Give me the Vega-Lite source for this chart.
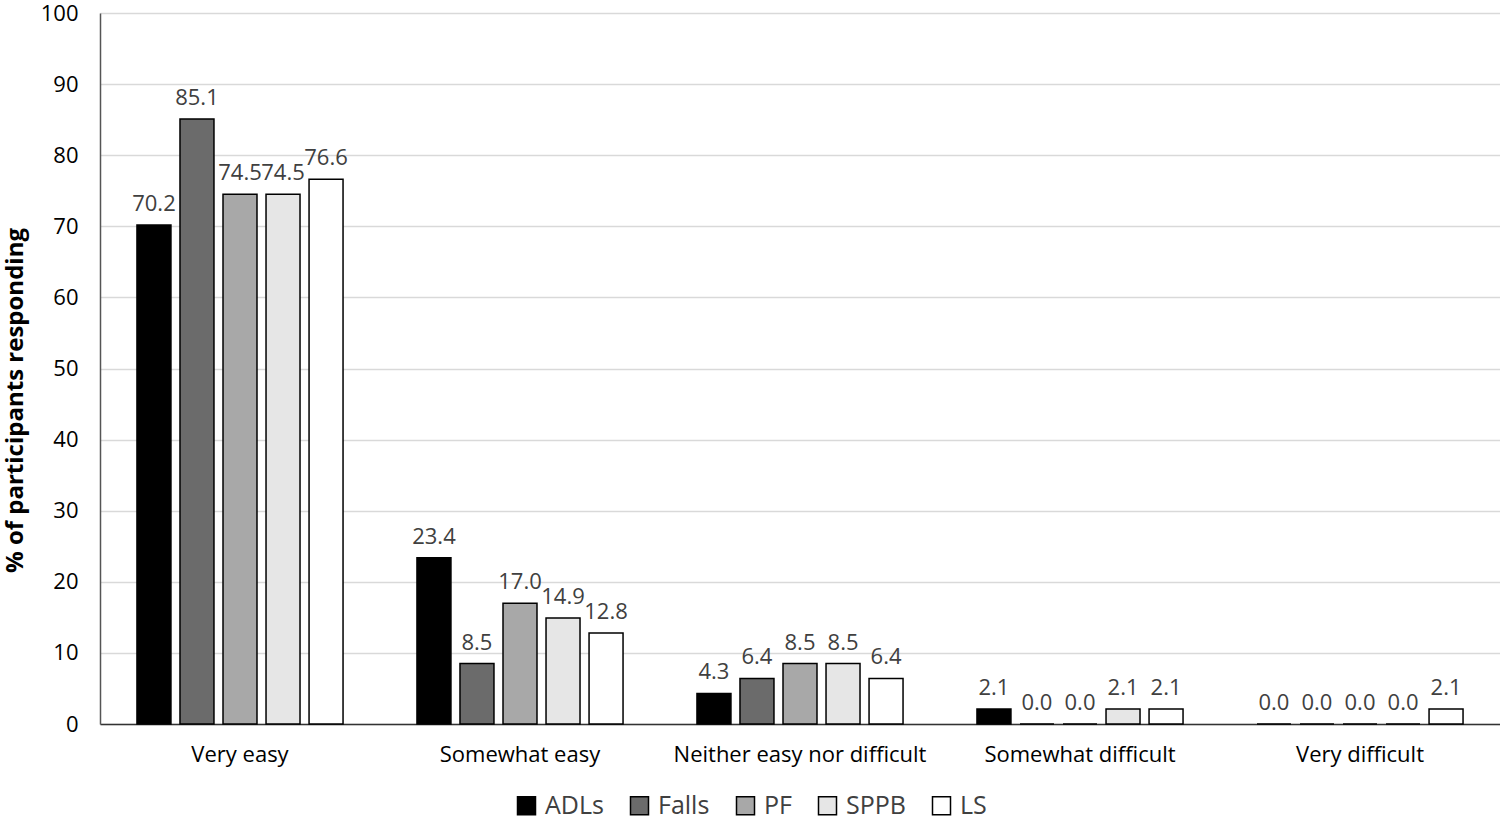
{
  "$schema": "https://vega.github.io/schema/vega-lite/v6.json",
  "width": 1400,
  "height": 711,
  "autosize": {"type": "none"},
  "padding": {"left": 100, "top": 13, "right": 0, "bottom": 94},
  "background": "white",
  "config": {
    "font": "Open Sans",
    "view": {"stroke": null}
  },
  "data": {
    "values": [
      {"cat": "Very easy", "series": "ADLs", "value": 70.2},
      {"cat": "Very easy", "series": "Falls", "value": 85.1},
      {"cat": "Very easy", "series": "PF", "value": 74.5},
      {"cat": "Very easy", "series": "SPPB", "value": 74.5},
      {"cat": "Very easy", "series": "LS", "value": 76.6},
      {"cat": "Somewhat easy", "series": "ADLs", "value": 23.4},
      {"cat": "Somewhat easy", "series": "Falls", "value": 8.5},
      {"cat": "Somewhat easy", "series": "PF", "value": 17.0},
      {"cat": "Somewhat easy", "series": "SPPB", "value": 14.9},
      {"cat": "Somewhat easy", "series": "LS", "value": 12.8},
      {"cat": "Neither easy nor difficult", "series": "ADLs", "value": 4.3},
      {"cat": "Neither easy nor difficult", "series": "Falls", "value": 6.4},
      {"cat": "Neither easy nor difficult", "series": "PF", "value": 8.5},
      {"cat": "Neither easy nor difficult", "series": "SPPB", "value": 8.5},
      {"cat": "Neither easy nor difficult", "series": "LS", "value": 6.4},
      {"cat": "Somewhat difficult", "series": "ADLs", "value": 2.1},
      {"cat": "Somewhat difficult", "series": "Falls", "value": 0.0},
      {"cat": "Somewhat difficult", "series": "PF", "value": 0.0},
      {"cat": "Somewhat difficult", "series": "SPPB", "value": 2.1},
      {"cat": "Somewhat difficult", "series": "LS", "value": 2.1},
      {"cat": "Very difficult", "series": "ADLs", "value": 0.0},
      {"cat": "Very difficult", "series": "Falls", "value": 0.0},
      {"cat": "Very difficult", "series": "PF", "value": 0.0},
      {"cat": "Very difficult", "series": "SPPB", "value": 0.0},
      {"cat": "Very difficult", "series": "LS", "value": 2.1}
    ]
  },
  "encoding": {
    "x": {
      "field": "cat",
      "type": "nominal",
      "sort": ["Very easy", "Somewhat easy", "Neither easy nor difficult", "Somewhat difficult", "Very difficult"],
      "scale": {"paddingInner": 0.264, "paddingOuter": 0.132},
      "axis": {
        "title": null,
        "labelAngle": 0,
        "labelFontSize": 22,
        "labelColor": "#000000",
        "labelPadding": 20,
        "labelLimit": 0,
        "ticks": false,
        "domainColor": "#333333",
        "domainWidth": 1.5
      }
    },
    "xOffset": {
      "field": "series",
      "type": "nominal",
      "sort": ["ADLs", "Falls", "PF", "SPPB", "LS"],
      "scale": {"paddingInner": 0.21, "paddingOuter": 0}
    },
    "y": {
      "field": "value",
      "type": "quantitative",
      "scale": {"domain": [0, 100], "nice": false},
      "axis": {
        "title": "% of participants responding",
        "titleFontSize": 24,
        "titleFontWeight": "bold",
        "titleColor": "#000000",
        "titleX": -85,
        "titleY": 387,
        "titleAngle": -90,
        "titleAlign": "center",
        "titleBaseline": "middle",
        "values": [0, 10, 20, 30, 40, 50, 60, 70, 80, 90, 100],
        "labelFontSize": 22,
        "labelColor": "#000000",
        "labelPadding": 22,
        "ticks": false,
        "domainColor": "#555555",
        "domainWidth": 1.5,
        "gridColor": "#d9d9d9",
        "gridWidth": 1.5
      }
    }
  },
  "layer": [
    {
      "mark": {"type": "bar", "stroke": "#000000", "strokeWidth": 1.5},
      "encoding": {
        "fill": {
          "field": "series",
          "type": "nominal",
          "sort": ["ADLs", "Falls", "PF", "SPPB", "LS"],
          "scale": {
            "domain": ["ADLs", "Falls", "PF", "SPPB", "LS"],
            "range": ["#000000", "#6b6b6b", "#a8a8a8", "#e6e6e6", "#ffffff"]
          },
          "legend": {
            "title": null,
            "orient": "none",
            "legendX": 414,
            "legendY": 780,
            "direction": "horizontal",
            "symbolType": "square",
            "symbolSize": 324,
            "symbolStrokeColor": "#000000",
            "symbolStrokeWidth": 1.5,
            "labelFontSize": 25,
            "labelColor": "#404040",
            "columnPadding": 23,
            "labelOffset": 6,
            "padding": 0
          }
        }
      }
    },
    {
      "mark": {"type": "text", "dy": -14, "baseline": "alphabetic", "fontSize": 22, "color": "#404040"},
      "encoding": {
        "text": {"field": "value", "type": "quantitative", "format": ".1f"}
      }
    }
  ]
}
